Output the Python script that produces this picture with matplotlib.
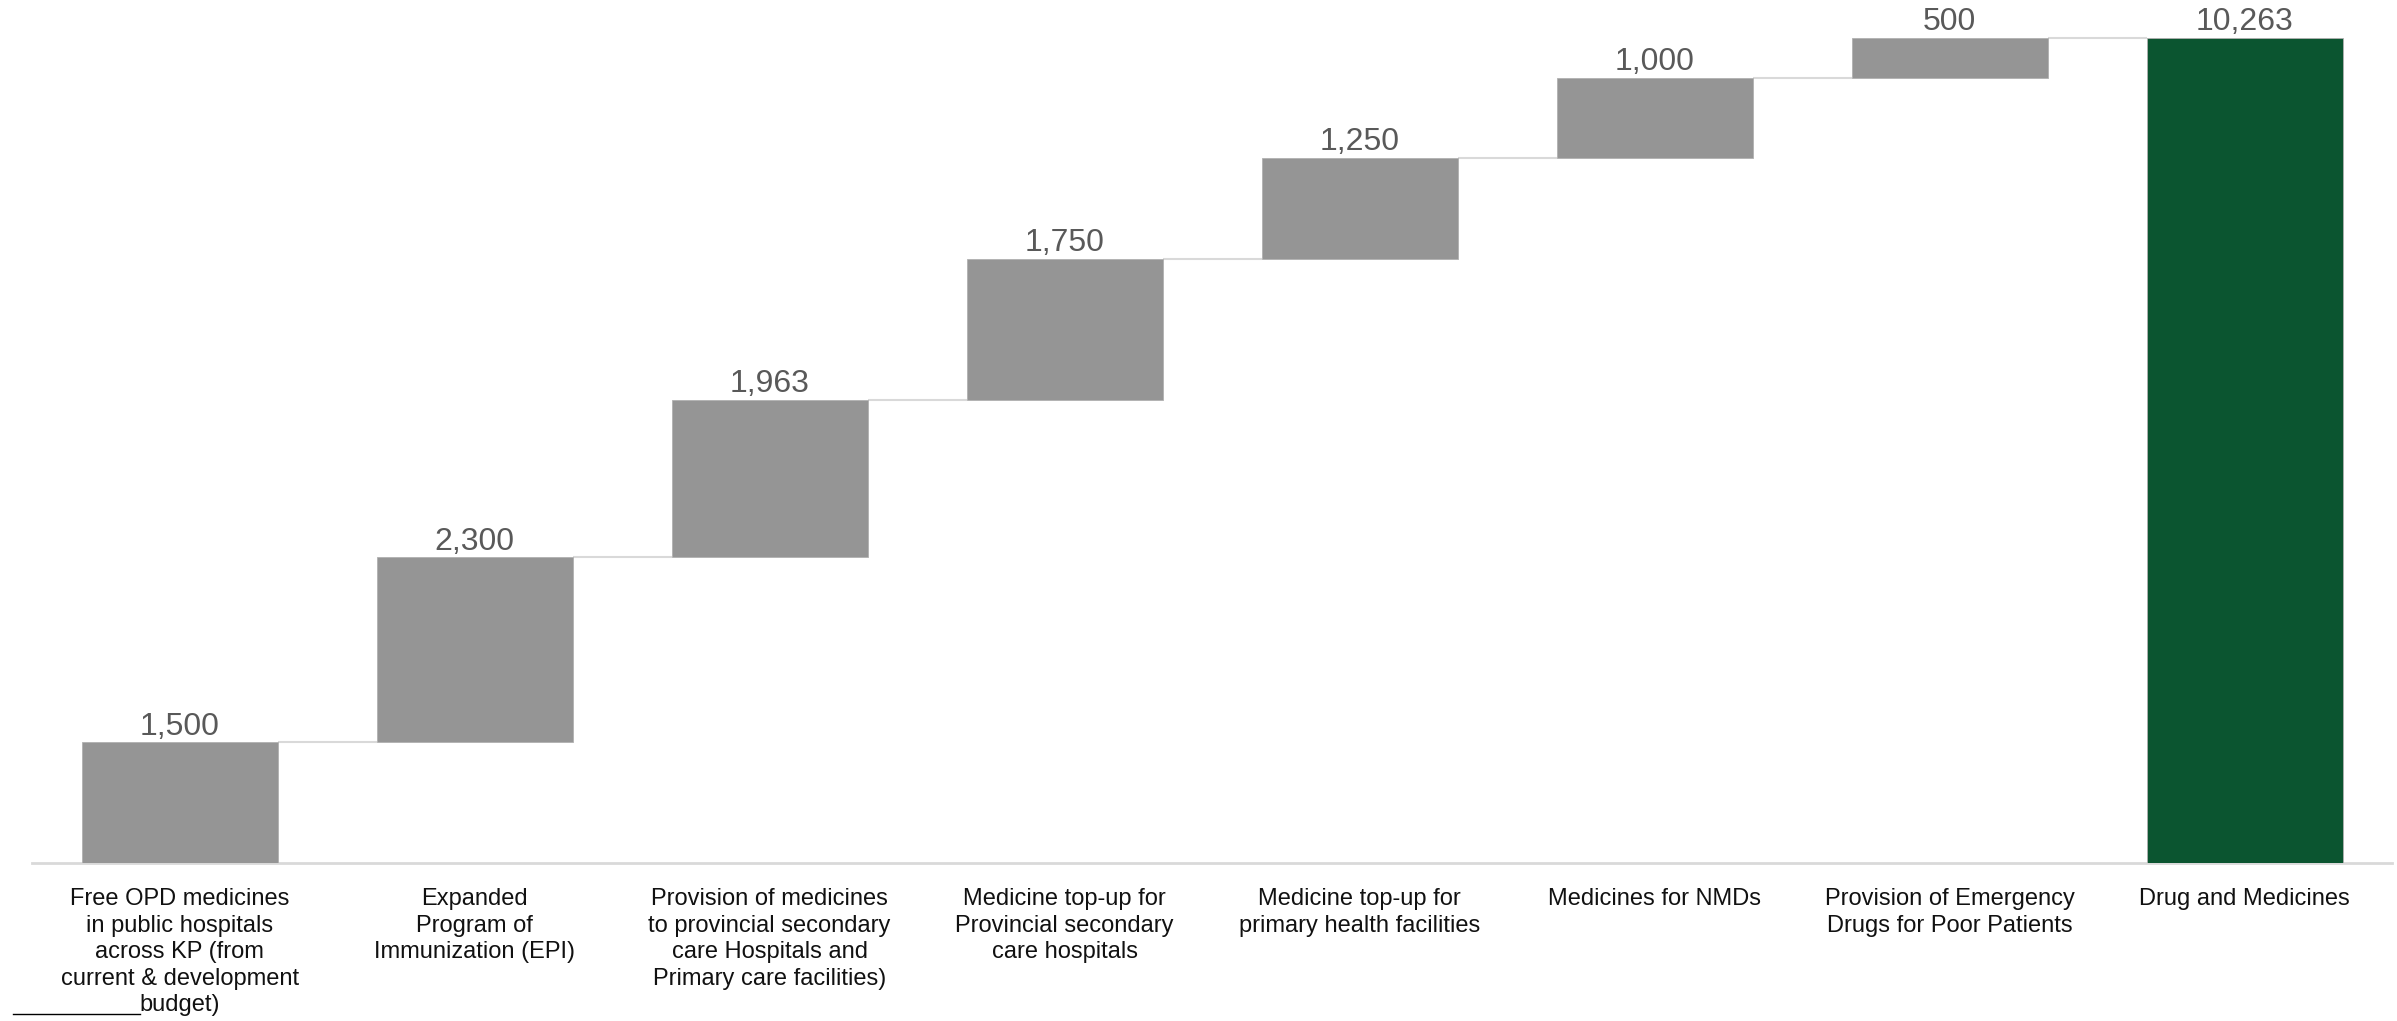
import matplotlib.pyplot as plt
from matplotlib.lines import Line2D

plt.rcParams['font.family'] = ['Liberation Sans', 'DejaVu Sans']

categories = [
    "Free OPD medicines\nin public hospitals\nacross KP (from\ncurrent & development\nbudget)",
    "Expanded\nProgram of\nImmunization (EPI)",
    "Provision of medicines\nto provincial secondary\ncare Hospitals and\nPrimary care facilities)",
    "Medicine top-up for\nProvincial secondary\ncare hospitals",
    "Medicine top-up for\nprimary health facilities",
    "Medicines for NMDs",
    "Provision of Emergency\nDrugs for Poor Patients",
    "Drug and Medicines",
]
steps = [1500, 2300, 1963, 1750, 1250, 1000, 500]
total = 10263

grey = "#959595"
green = "#0B5530"
line_grey = "#d9d9d9"

# waterfall bases
bases = []
running = 0
for v in steps:
    bases.append(running)
    running += v
heights = steps + [total]
bottoms = bases + [0]
colors = [grey] * len(steps) + [green]

fig = plt.figure(figsize=(23.97, 10.21), dpi=100)
ax = fig.add_axes([0.0134, 0.1547, 0.9846, 0.8453])

x = list(range(len(categories)))
w = 0.665
ax.bar(x, heights, bottom=bottoms, width=w, color=colors,
       edgecolor="#b0b0b0", linewidth=0.6, zorder=3)

# connectors
levels = [b + h for b, h in zip(bottoms, heights)]
for i in range(len(categories) - 1):
    ax.hlines(levels[i], x[i] + w / 2, x[i + 1] - w / 2,
              color=line_grey, linewidth=1.5, zorder=2)

# value labels
for i, (b, h) in enumerate(zip(bottoms, heights)):
    ax.text(x[i], b + h + 10, f"{h:,}", ha="center", va="bottom",
            fontsize=23, color="#595959")

ax.set_xlim(-0.5, len(categories) - 0.5)
ax.set_ylim(0, 10730)
ax.set_xticks(x)
ax.set_xticklabels(categories, fontsize=17, color="#111111", linespacing=1.27)
ax.tick_params(axis="x", length=0, pad=18)
ax.set_yticks([])
for s in ["top", "left", "right"]:
    ax.spines[s].set_visible(False)
ax.spines["bottom"].set_color(line_grey)
ax.spines["bottom"].set_linewidth(2)

# stray underline near the first label
fig.add_artist(Line2D([13 / 2397, 140 / 2397], [0.0069, 0.0069],
                      color="black", linewidth=1.0))

fig.savefig("out.png", dpi=100)
